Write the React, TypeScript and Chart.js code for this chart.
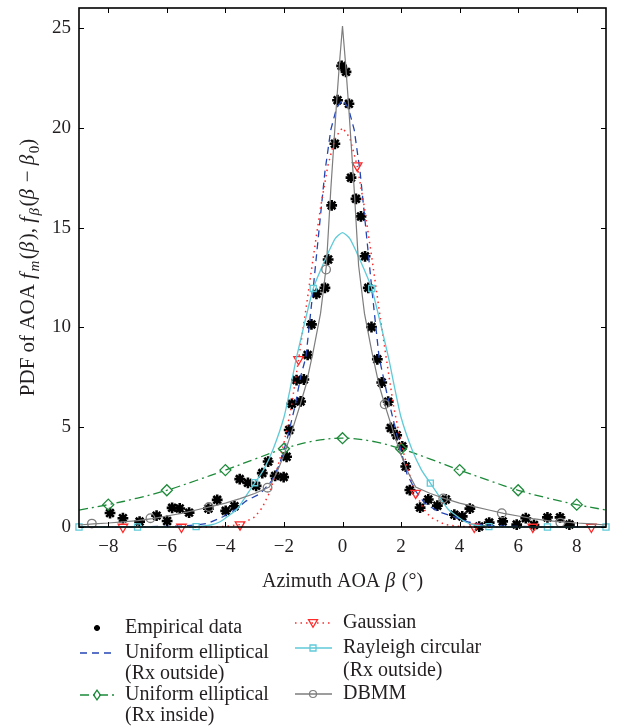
import React, { useEffect, useRef } from 'react';
import { Chart, registerables } from 'chart.js';

Chart.register(...registerables);

// ---------- data ----------
const xTicks = [-8, -6, -4, -2, 0, 2, 4, 6, 8];
const yTicks = [0, 5, 10, 15, 20, 25];

const empX = [-7.94, -7.5, -6.93, -6.35, -5.99, -5.82, -5.56, -5.24, -4.58, -4.28, -3.99, -3.69, -3.51, -3.23, -2.95, -2.74, -2.54, -2.3, -2.01, -1.91, -1.82, -1.73, -1.57, -1.43, -1.32, -1.19, -1.06, -0.89, -0.6, -0.49, -0.37, -0.26, -0.17, -0.03, 0.12, 0.22, 0.29, 0.46, 0.63, 0.77, 0.88, 0.99, 1.19, 1.34, 1.56, 1.65, 1.85, 2.04, 2.16, 2.3, 2.65, 2.93, 3.24, 3.53, 3.82, 4.09, 4.35, 4.67, 5.01, 5.47, 5.95, 6.26, 6.54, 7.0, 7.43, 7.75];
const empY = [0.7, 0.44, 0.27, 0.57, 0.3, 0.96, 0.93, 0.72, 0.92, 1.36, 0.81, 1.04, 2.4, 2.21, 2.06, 2.7, 3.28, 2.56, 2.5, 3.52, 4.86, 6.17, 7.36, 6.29, 7.39, 8.62, 10.15, 11.68, 11.98, 13.4, 16.11, 19.2, 21.38, 23.1, 22.8, 21.2, 17.5, 16.44, 15.56, 13.56, 11.98, 10.02, 8.4, 7.24, 6.28, 4.96, 4.6, 4.04, 3.03, 1.85, 0.97, 1.38, 1.07, 1.38, 0.62, 0.53, 0.92, 0.02, 0.22, 0.28, 0.12, 0.44, 0.1, 0.48, 0.48, 0.12];

const ueOutX = [-9, -7, -6, -5.5, -5, -4.6, -4.1, -3.6, -3.3, -2.8, -2.4, -2.15, -1.9, -1.63, -1.42, -1.25, -1.0, -0.8, -0.6, -0.4, -0.2, 0, 0.2, 0.4, 0.6, 0.8, 1.0, 1.25, 1.5, 1.85, 2.2, 2.5, 2.8, 3.3, 3.85, 4.3, 4.8, 5.5, 7, 9];
const ueOutY = [0, 0.01, 0.03, 0.05, 0.1, 0.18, 0.5, 0.92, 1.3, 1.68, 2.35, 3.15, 4.35, 6.0, 7.6, 8.5, 11.95, 14.9, 17.8, 19.9, 21.0, 21.4, 21.0, 19.9, 17.8, 14.9, 11.95, 8.5, 6.8, 4.66, 2.67, 1.8, 1.2, 0.75, 0.5, 0.25, 0.1, 0.04, 0.01, 0];

const ueInX = [-9, -8, -7, -6, -5, -4, -3, -2, -1, 0, 1, 2, 3, 4, 5, 6, 7, 8, 9];
const ueInY = [0.85, 1.12, 1.45, 1.84, 2.33, 2.85, 3.4, 3.92, 4.3, 4.45, 4.3, 3.92, 3.4, 2.85, 2.33, 1.84, 1.45, 1.12, 0.85];
const ueInMkX = [-8, -6, -4, -2, 0, 2, 4, 6, 8];
const ueInMkY = [1.12, 1.84, 2.85, 3.92, 4.45, 3.92, 2.85, 1.84, 1.12];

const gaussX = [-9, -4.5, -4, -3.5, -3, -2.75, -2.5, -2.25, -2, -1.75, -1.5, -1.25, -1, -0.75, -0.5, -0.25, 0, 0.25, 0.5, 0.75, 1, 1.25, 1.5, 1.75, 2, 2.25, 2.5, 2.75, 3, 3.5, 4, 4.5, 9];
const gaussY = [0, 0, 0.03, 0.12, 0.5, 0.95, 1.7, 2.8, 4.2, 6.0, 8.4, 10.9, 13.5, 16.0, 18.1, 19.5, 20, 19.5, 18.1, 16.0, 13.5, 10.9, 8.4, 6.0, 4.2, 2.8, 1.7, 0.95, 0.5, 0.12, 0.03, 0, 0];
const gaussMkX = [-7.5, -5.5, -3.5, -1.5, 0.5, 2.5, 4.5, 6.5, 8.5];
const gaussMkY = [0, 0, 0.12, 8.4, 18.1, 1.7, 0, 0, 0];

const rayX = [-9, -6, -5, -4.5, -4.2, -3.9, -3.6, -3.3, -3.0, -2.7, -2.37, -2.0, -1.75, -1.57, -1.0, -0.77, -0.49, -0.25, 0, 0.25, 0.49, 0.77, 1.0, 1.57, 1.75, 2.0, 2.37, 2.7, 3.0, 3.3, 3.6, 3.9, 4.2, 4.5, 5, 6, 9];
const rayY = [0, 0, 0.02, 0.1, 0.25, 0.55, 0.9, 1.55, 2.2, 2.85, 3.9, 5.5, 7.2, 8.5, 11.95, 12.8, 13.73, 14.45, 14.75, 14.45, 13.73, 12.8, 11.95, 8.5, 7.2, 5.5, 3.9, 2.85, 2.2, 1.55, 0.9, 0.55, 0.25, 0.1, 0.02, 0, 0];
const rayMkX = [-9, -7, -5, -3, -1, 1, 3, 5, 7, 9];
const rayMkY = [0, 0, 0.02, 2.22, 11.95, 11.95, 2.2, 0.02, 0, 0];

const dbX = [-9, -8.5, -8, -7.5, -7, -6.5, -6, -5.5, -5, -4.5, -4, -3.5, -3, -2.5, -2.25, -2, -1.75, -1.45, -1.25, -1, -0.75, -0.55, -0.4, -0.3, -0.2, -0.1, -0.05, 0, 0.05, 0.1, 0.2, 0.3, 0.4, 0.55, 0.75, 1, 1.25, 1.45, 1.75, 2, 2.25, 2.5, 3, 3.5, 4, 4.5, 5, 5.5, 6, 6.5, 7, 7.5, 8, 8.5, 9];
const dbY = [0.1, 0.16, 0.2, 0.26, 0.32, 0.42, 0.55, 0.68, 0.85, 1.02, 1.2, 1.42, 1.68, 2.0, 2.7, 3.6, 4.7, 6.1, 7.1, 8.8, 10.7, 13.1, 16.9, 19.1, 21.3, 23.3, 24.2, 25.1, 24.2, 23.3, 21.3, 19.1, 16.9, 13.1, 10.7, 8.8, 7.1, 6.1, 4.7, 3.6, 2.7, 2.0, 1.68, 1.42, 1.2, 1.02, 0.85, 0.68, 0.55, 0.42, 0.32, 0.26, 0.2, 0.16, 0.1];
const dbMkX = [-8.56, -6.56, -4.56, -2.56, -0.56, 1.44, 3.44, 5.44, 7.44];
const dbMkY = [0.17, 0.44, 1.0, 1.97, 12.9, 6.15, 1.43, 0.69, 0.22];

// ---------- styles ----------
const FONT = '"Liberation Serif", "Times New Roman", serif';
const TXT = '#231f20';
const C_BLUE = '#2446b4';
const C_GREEN = '#1d8a3a';
const C_RED = '#ff2a2a';
const C_CYAN = '#5fcad8';
const C_GRAY = '#7d7d7d';
const DASH_BLUE = [7, 5];
const DASH_GREEN = [9, 4, 2, 4];
const DASH_RED = [1.5, 4];

const pts = (xs: number[], ys: number[]) => xs.map((x, i) => ({ x, y: ys[i] }));

type Seg = { t: string; it?: boolean; sub?: boolean };

function drawRich(ctx: CanvasRenderingContext2D, segs: Seg[], size: number, cx: number, cy: number) {
  const subSize = Math.round(size * 0.7);
  const fontOf = (s: Seg) => `${s.it ? 'italic ' : ''}${s.sub ? subSize : size}px ${FONT}`;
  let total = 0;
  const widths = segs.map((s) => {
    ctx.font = fontOf(s);
    const w = ctx.measureText(s.t).width + (s.it ? 1.5 : 0);
    total += w;
    return w;
  });
  let x = cx - total / 2;
  ctx.textAlign = 'left';
  ctx.textBaseline = 'alphabetic';
  segs.forEach((s, i) => {
    ctx.font = fontOf(s);
    ctx.fillText(s.t, x, cy + (s.sub ? size * 0.25 : 0));
    x += widths[i];
  });
}

function drawMarker(ctx: CanvasRenderingContext2D, kind: string, x: number, y: number, r: number, color: string, lw: number) {
  ctx.save();
  ctx.setLineDash([]);
  ctx.strokeStyle = color;
  ctx.fillStyle = color;
  ctx.lineWidth = lw;
  ctx.beginPath();
  if (kind === 'star') {
    for (let k = 0; k < 4; k++) {
      const a = (k * Math.PI) / 4;
      ctx.moveTo(x - r * Math.cos(a), y - r * Math.sin(a));
      ctx.lineTo(x + r * Math.cos(a), y + r * Math.sin(a));
    }
  } else if (kind === 'tri') {
    ctx.moveTo(x - r, y - r * 0.75);
    ctx.lineTo(x + r, y - r * 0.75);
    ctx.lineTo(x, y + r * 0.95);
    ctx.closePath();
  } else if (kind === 'rect') {
    ctx.rect(x - r, y - r, 2 * r, 2 * r);
  } else if (kind === 'diamond') {
    ctx.moveTo(x, y - r * 1.2);
    ctx.lineTo(x + r * 0.85, y);
    ctx.lineTo(x, y + r * 1.2);
    ctx.lineTo(x - r * 0.85, y);
    ctx.closePath();
  } else {
    ctx.arc(x, y, r, 0, Math.PI * 2);
  }
  ctx.stroke();
  ctx.restore();
}

const decorPlugin = {
  id: 'decor',
  afterDatasetsDraw(chart: any) {
    const { ctx, chartArea: a, scales } = chart;
    ctx.save();
    ctx.setLineDash([]);
    ctx.strokeStyle = '#000';
    ctx.lineWidth = 1;
    const line = (x1: number, y1: number, x2: number, y2: number) => {
      ctx.beginPath();
      ctx.moveTo(x1, y1);
      ctx.lineTo(x2, y2);
      ctx.stroke();
    };
    xTicks.forEach((v) => {
      const px = Math.round(scales.x.getPixelForValue(v)) + 0.5;
      line(px, a.bottom, px, a.bottom - 5);
      line(px, a.top, px, a.top + 5);
    });
    yTicks.forEach((v) => {
      const py = Math.round(scales.y.getPixelForValue(v)) + 0.5;
      line(a.left, py, a.left + 5, py);
      line(a.right, py, a.right - 5, py);
    });
    ctx.lineWidth = 1.6;
    ctx.strokeRect(a.left, a.top, a.right - a.left, a.bottom - a.top);
    ctx.restore();
  },
  afterDraw(chart: any) {
    const { ctx, chartArea: a } = chart;
    ctx.save();
    ctx.fillStyle = TXT;
    // x title
    drawRich(ctx, [{ t: 'Azimuth AOA ' }, { t: 'β', it: true }, { t: ' (°)' }], 20, (a.left + a.right) / 2, 587);
    // y title
    ctx.save();
    ctx.translate(34, (a.top + a.bottom) / 2);
    ctx.rotate(-Math.PI / 2);
    drawRich(
      ctx,
      [
        { t: 'PDF of AOA ' },
        { t: 'f', it: true },
        { t: 'm', it: true, sub: true },
        { t: '(' },
        { t: 'β', it: true },
        { t: '), ' },
        { t: 'f', it: true },
        { t: 'β', it: true, sub: true },
        { t: '(' },
        { t: 'β', it: true },
        { t: ' − ' },
        { t: 'β', it: true },
        { t: '0', sub: true },
        { t: ')' },
      ],
      21,
      0,
      0
    );
    ctx.restore();

    // legend
    const lineSample = (x1: number, x2: number, y: number, color: string, dash: number[], lw = 1.3) => {
      ctx.save();
      ctx.strokeStyle = color;
      ctx.lineWidth = lw;
      ctx.setLineDash(dash);
      ctx.beginPath();
      ctx.moveTo(x1, y);
      ctx.lineTo(x2, y);
      ctx.stroke();
      ctx.restore();
    };
    const text = (t: string, x: number, y: number) => {
      ctx.font = `20px ${FONT}`;
      ctx.fillStyle = TXT;
      ctx.textAlign = 'left';
      ctx.textBaseline = 'middle';
      ctx.fillText(t, x, y);
    };
    const L1 = 80, L2 = 114, LM = 97, LT = 125;
    const R1 = 295, R2 = 332, RM = 313, RT = 343;
    drawMarker(ctx, 'star', LM, 628, 3, '#000', 1.8);
    text('Empirical data', LT, 628);
    lineSample(L1, L2, 653, C_BLUE, DASH_BLUE);
    text('Uniform elliptical', LT, 653);
    text('(Rx outside)', LT, 674);
    lineSample(L1, L2, 695, C_GREEN, DASH_GREEN);
    drawMarker(ctx, 'diamond', LM, 695, 4, C_GREEN, 1.3);
    text('Uniform elliptical', LT, 695);
    text('(Rx inside)', LT, 716);

    lineSample(R1, R2, 623, C_RED, DASH_RED);
    drawMarker(ctx, 'tri', RM, 623, 4.5, C_RED, 1.3);
    text('Gaussian', RT, 623);
    lineSample(R1, R2, 648, C_CYAN, []);
    drawMarker(ctx, 'rect', RM, 648, 3, C_CYAN, 1.3);
    text('Rayleigh circular', RT, 648);
    text('(Rx outside)', RT, 671);
    lineSample(R1, R2, 694, C_GRAY, []);
    drawMarker(ctx, 'circle', RM, 694, 3.5, C_GRAY, 1.2);
    text('DBMM', RT, 694);
    ctx.restore();
  },
};

export default function App() {
  const ref = useRef<HTMLCanvasElement | null>(null);

  useEffect(() => {
    document.body.style.margin = '0';
    const canvas = ref.current;
    if (!canvas) return;

    const lineDs = (label: string, xs: number[], ys: number[], color: string, dash: number[], order: number, lw = 1.3, tension = 0) => ({
      label,
      data: pts(xs, ys),
      showLine: true,
      borderColor: color,
      borderWidth: lw,
      borderDash: dash,
      pointRadius: 0,
      pointHoverRadius: 0,
      tension,
      fill: false,
      clip: false as any,
      order,
    });
    const markDs = (label: string, xs: number[], ys: number[], color: string, style: string, r: number, order: number, rot = 0, bw = 1.3) => ({
      label,
      data: pts(xs, ys),
      showLine: false,
      borderColor: color,
      backgroundColor: 'rgba(0,0,0,0)',
      pointStyle: style,
      pointRadius: r,
      pointRotation: rot,
      pointBorderWidth: bw,
      borderWidth: bw,
      clip: false as any,
      order,
    });

    const chart = new Chart(canvas, {
      type: 'scatter',
      data: {
        datasets: [
          markDs('Empirical data', empX, empY, '#000', 'star', 5.4, 20, 0, 2.6) as any,
          lineDs('Uniform elliptical (Rx outside)', ueOutX, ueOutY, C_BLUE, DASH_BLUE, 10),
          lineDs('Uniform elliptical (Rx inside)', ueInX, ueInY, C_GREEN, DASH_GREEN, 9, 1.3, 0.35),
          markDs('ue-in markers', ueInMkX, ueInMkY, C_GREEN, 'rectRot', 5.5, 8) as any,
          lineDs('Gaussian', gaussX, gaussY, C_RED, DASH_RED, 7, 1.5),
          markDs('gauss markers', gaussMkX, gaussMkY, C_RED, 'triangle', 5.5, 6, 180) as any,
          lineDs('Rayleigh circular (Rx outside)', rayX, rayY, C_CYAN, [], 5, 1.3, 0.2),
          markDs('ray markers', rayMkX, rayMkY, C_CYAN, 'rect', 4.3, 4) as any,
          lineDs('DBMM', dbX, dbY, C_GRAY, [], 3, 1.2),
          markDs('dbmm markers', dbMkX, dbMkY, C_GRAY, 'circle', 4.3, 2) as any,
        ],
      },
      options: {
        responsive: false,
        animation: false,
        devicePixelRatio: 1,
        layout: { padding: { top: 7, right: 12, left: 0, bottom: 129 } },
        plugins: { legend: { display: false }, tooltip: { enabled: false }, title: { display: false } },
        events: [],
        scales: {
          x: {
            type: 'linear',
            min: -9,
            max: 9,
            afterBuildTicks: (s: any) => {
              s.ticks = xTicks.map((v) => ({ value: v }));
            },
            afterFit: (s: any) => {
              s.height = 70;
              s.paddingLeft = 0;
              s.paddingRight = 0;
            },
            grid: { display: false, drawTicks: false },
            border: { display: false },
            ticks: {
              padding: 9,
              color: TXT,
              font: { family: FONT, size: 19 },
              maxRotation: 0,
              autoSkip: false,
              callback: (v: any) => (Number(v) < 0 ? '\u2212' + Math.abs(Number(v)) : String(v)),
            },
          },
          y: {
            type: 'linear',
            min: 0,
            max: 26,
            afterBuildTicks: (s: any) => {
              s.ticks = yTicks.map((v) => ({ value: v }));
            },
            afterFit: (s: any) => {
              s.width = 79;
              s.paddingTop = 0;
              s.paddingBottom = 0;
            },
            grid: { display: false, drawTicks: false },
            border: { display: false },
            ticks: {
              padding: 8,
              color: TXT,
              font: { family: FONT, size: 19 },
              autoSkip: false,
              callback: (v: any) => String(v),
            },
          },
        },
      },
      plugins: [decorPlugin],
    });

    return () => chart.destroy();
  }, []);

  return (
    <div style={{ width: 618, height: 726, background: '#fff' }}>
      <canvas ref={ref} width={618} height={726} style={{ display: 'block' }} />
    </div>
  );
}
